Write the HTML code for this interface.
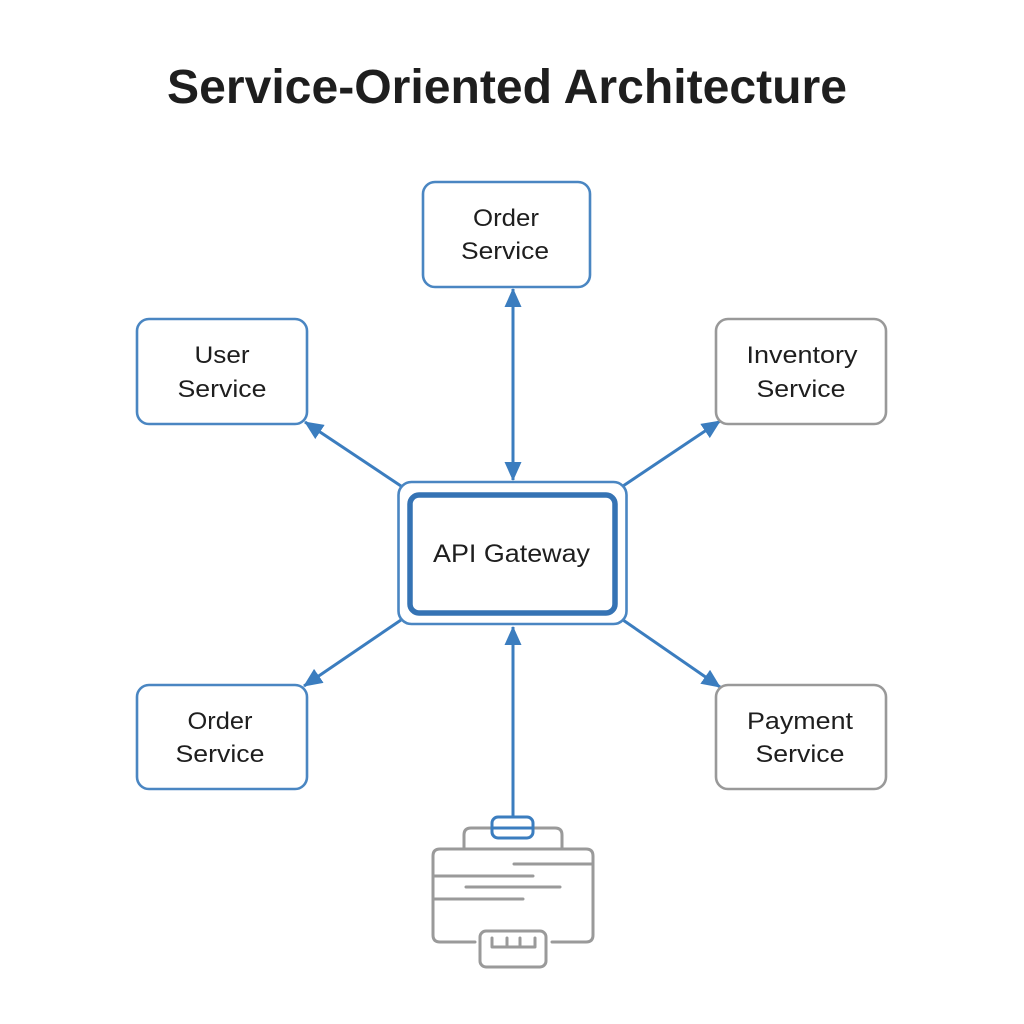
<!DOCTYPE html>
<html><head><meta charset="utf-8"><style>
html,body{margin:0;padding:0;background:#fff;}
svg{display:block;}
text{font-family:"Liberation Sans",sans-serif;fill:#1e1e1e;}
</style></head><body>
<svg width="1024" height="1024" viewBox="0 0 1024 1024" xmlns="http://www.w3.org/2000/svg">
<defs>
<marker id="ah" markerUnits="userSpaceOnUse" markerWidth="19" markerHeight="17" refX="18" refY="8.5" orient="auto-start-reverse" viewBox="0 0 19 17">
<path d="M0,0 L19,8.5 L0,17 z" fill="#3b7dbf"/>
</marker>
</defs>
<rect width="1024" height="1024" fill="#fff"/>
<text x="507" y="103" font-size="48" font-weight="bold" text-anchor="middle" textLength="680" lengthAdjust="spacingAndGlyphs" fill="#1f1f1f">Service-Oriented Architecture</text>

<!-- connectors -->
<g stroke="#3b7dbf" stroke-width="3" fill="none">
<line x1="513" y1="289" x2="513" y2="480" marker-start="url(#ah)" marker-end="url(#ah)"/>
<line x1="401" y1="486" x2="305" y2="422" marker-end="url(#ah)"/>
<line x1="623" y1="486" x2="720" y2="421" marker-end="url(#ah)"/>
<line x1="401" y1="620" x2="304" y2="686" marker-end="url(#ah)"/>
<line x1="623" y1="620" x2="720" y2="687" marker-end="url(#ah)"/>
<line x1="513" y1="818" x2="513" y2="627" marker-end="url(#ah)"/>
</g>

<!-- service boxes -->
<g fill="#fff" stroke-width="2.6">
<rect x="423" y="182" width="167" height="105" rx="12" stroke="#4a86c2"/>
<rect x="137" y="319" width="170" height="105" rx="12" stroke="#4a86c2"/>
<rect x="716" y="319" width="170" height="105" rx="12" stroke="#999"/>
<rect x="137" y="685" width="170" height="104" rx="12" stroke="#4a86c2"/>
<rect x="716" y="685" width="170" height="104" rx="12" stroke="#999"/>
</g>

<!-- gateway -->
<rect x="398.5" y="482" width="228" height="142" rx="13" fill="#fff" stroke="#4a86c2" stroke-width="2.6"/>
<rect x="410" y="495" width="205" height="118" rx="9" fill="#fff" stroke="#3573b4" stroke-width="5.5"/>

<g font-size="24" text-anchor="middle">
<text x="506" y="226" textLength="66" lengthAdjust="spacingAndGlyphs">Order</text>
<text x="505" y="259" textLength="88" lengthAdjust="spacingAndGlyphs">Service</text>
<text x="222" y="363" textLength="55" lengthAdjust="spacingAndGlyphs">User</text>
<text x="222" y="397" textLength="89" lengthAdjust="spacingAndGlyphs">Service</text>
<text x="802" y="363" textLength="111" lengthAdjust="spacingAndGlyphs">Inventory</text>
<text x="801" y="397" textLength="89" lengthAdjust="spacingAndGlyphs">Service</text>
<text x="220" y="729" textLength="65" lengthAdjust="spacingAndGlyphs">Order</text>
<text x="220" y="762" textLength="89" lengthAdjust="spacingAndGlyphs">Service</text>
<text x="800" y="729" textLength="106" lengthAdjust="spacingAndGlyphs">Payment</text>
<text x="800" y="762" textLength="89" lengthAdjust="spacingAndGlyphs">Service</text>
<text x="511.5" y="562" font-size="25" textLength="157" lengthAdjust="spacingAndGlyphs">API Gateway</text>
</g>

<!-- bottom client icon -->
<g fill="none" stroke="#9a9a9a" stroke-width="3" stroke-linecap="round" stroke-linejoin="round">
<path d="M464,849 L464,835 Q464,828 471,828 L492,828"/>
<path d="M533,828 L555,828 Q562,828 562,835 L562,849"/>
<path d="M475,942 L440,942 Q433,942 433,935 L433,856 Q433,849 440,849 L586,849 Q593,849 593,856 L593,935 Q593,942 586,942 L552,942"/>
<line x1="514" y1="864" x2="593" y2="864"/>
<line x1="433" y1="876" x2="533" y2="876"/>
<line x1="466" y1="887" x2="560" y2="887"/>
<line x1="433" y1="899" x2="523" y2="899"/>
<rect x="480" y="931" width="66" height="36" rx="6"/>
<path d="M492,938 L492,947 L535,947 L535,938 M507,938 L507,947 M520,938 L520,947"/>
</g>
<g fill="#fff" stroke="#3b7dbf" stroke-width="3">
<rect x="492" y="817" width="41" height="21" rx="6"/>
<line x1="492" y1="828" x2="533" y2="828"/>
</g>
</svg>
</body></html>
